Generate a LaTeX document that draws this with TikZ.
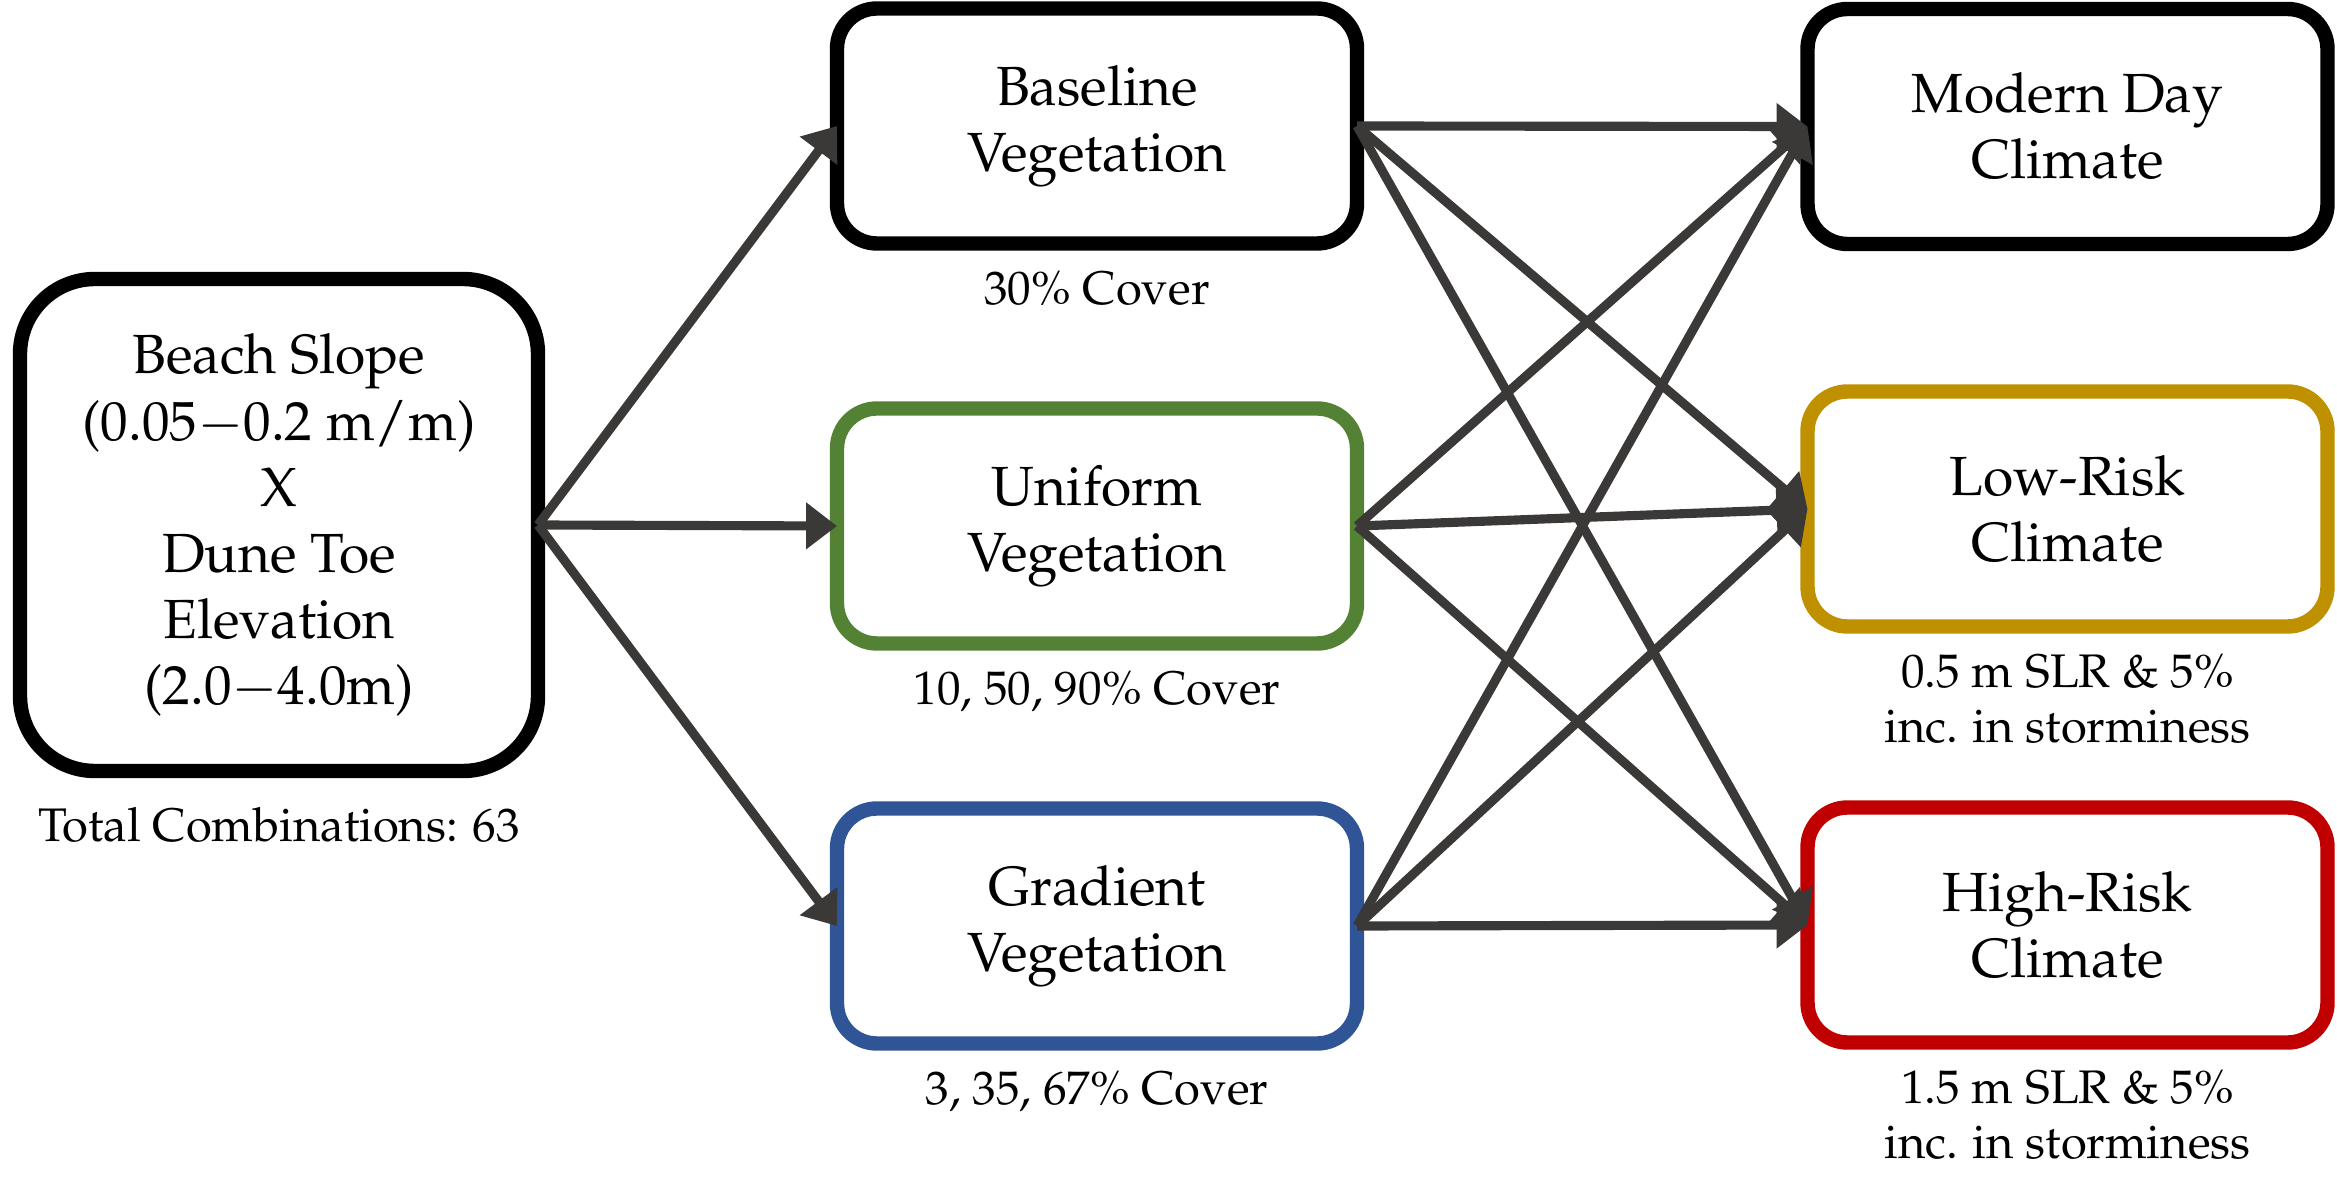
\documentclass[tikz,border=0pt]{standalone}
\usepackage[T1]{fontenc}
\usepackage{mathpazo}
\usetikzlibrary{arrows.meta}

\definecolor{arrowgray}{HTML}{3B3838}
\definecolor{uniformgreen}{HTML}{548235}
\definecolor{gradientblue}{HTML}{2F5597}
\definecolor{lowgold}{HTML}{BF9000}
\definecolor{highred}{HTML}{C00000}

\tikzstyle{scenario}=[rectangle, draw, line width=4.1pt, rounded corners=0.4cm, outer sep=0pt, inner sep=0pt, minimum width=5.2cm, minimum height=2.35cm, align=center, font=\fontsize{15.7}{18.8}\selectfont]
\tikzstyle{inputs}=[scenario, rounded corners=0.75cm, minimum width=5.18cm, minimum height=4.92cm]
\tikzstyle{note}=[font=\fontsize{13.4}{15.6}\selectfont, align=center, inner sep=0pt, label distance=0.28cm]
\tikzstyle{link}=[arrowgray, line width=2.6pt, -{Triangle[length=8.8pt,width=12.8pt]}]

\begin{document}
\begin{tikzpicture}
\useasboundingbox (0,0) rectangle (23.37,12);

\node[inputs,label={[note,name=total,label distance=0.36cm]below:{Total Combinations: 63}}](inputs) at (2.79, 6.75) {Beach Slope\\(0.05$-$0.2 m/m)\\X\\Dune Toe\\Elevation\\(2.0$-$4.0m)};

\node[scenario,label={[note,name=baselinecover]below:{30\% Cover}}](baseline) at (10.97, 10.74) {Baseline\\Vegetation};
\node[scenario,draw=uniformgreen,label={[note,name=uniformcover]below:{10, 50, 90\% Cover}}](uniform) at (10.97, 6.74) {Uniform\\Vegetation};
\node[scenario,draw=gradientblue,label={[note,name=gradientcover]below:{3, 35, 67\% Cover}}](gradient) at (10.97, 2.74) {Gradient\\Vegetation};

\node[scenario](modern) at (20.675, 10.735) {Modern Day\\Climate};
\node[scenario,draw=lowgold,label={[note,name=lowslr]below:{0.5 m SLR \& 5\%\\inc. in storminess}}](lowrisk) at (20.675, 6.91) {Low-Risk\\Climate};
\node[scenario,draw=highred,label={[note,name=highslr]below:{1.5 m SLR \& 5\%\\inc. in storminess}}](highrisk) at (20.675, 2.75) {High-Risk\\Climate};

\begin{scope}[every path/.style={link}]
       \draw (inputs.east) -- (baseline.west);
       \draw (inputs.east) -- (uniform.west);
       \draw (inputs.east) -- (gradient.west);

       \draw (baseline.east) -- (modern.west);
       \draw (baseline.east) -- (lowrisk.west);
       \draw (baseline.east) -- (highrisk.west);

       \draw (uniform.east) -- (modern.west);
       \draw (uniform.east) -- (lowrisk.west);
       \draw (uniform.east) -- (highrisk.west);

       \draw (gradient.east) -- (modern.west);
       \draw (gradient.east) -- (lowrisk.west);
       \draw (gradient.east) -- (highrisk.west);
\end{scope}
\end{tikzpicture}
\end{document}
